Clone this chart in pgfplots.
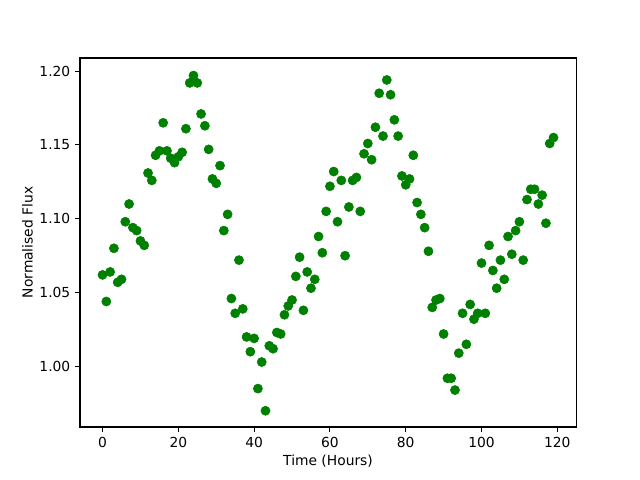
\documentclass[border=0pt]{standalone}
\usepackage{pgfplots}
\pgfplotsset{compat=1.18}
\usepackage{fontspec}
\setmainfont{DejaVu Sans}
\begin{document}
\begin{tikzpicture}[x=1pt,y=1pt]
\def\px{0.7227}
\begin{axis}[
  scale only axis,
  width=358.5pt, height=266.7pt,
  xmin=-5.95, xmax=124.95, ymin=0.959, ymax=1.2089,
  axis line style={line width=0.8pt},
  tick align=outside, tick pos=left,
  major tick length=3.5pt,
  every tick/.style={black, line width=0.8pt},
  xtick={0,20,40,60,80,100,120},
  ytick={1.00,1.05,1.10,1.15,1.20},
  yticklabel style={/pgf/number format/.cd, fixed, fixed zerofill, precision=2},
  /pgf/number format/assume math mode=true,
  ticklabel style={font=\fontsize{10}{12}\selectfont},
  label style={font=\fontsize{10}{12}\selectfont},
  xlabel={Time (Hours)},
  ylabel={Normalised Flux},
  xlabel style={yshift=1pt},
  ylabel style={yshift=-2pt},
]
\addplot[only marks, mark=*, mark size=3.3pt, color={rgb,255:red,0;green,128;blue,0}] coordinates {
(0,1.062) (1,1.044) (2,1.064) (3,1.080) (4,1.057) (5,1.059)
(6,1.098) (7,1.110) (8,1.094) (9,1.092) (10,1.085) (11,1.082)
(12,1.131) (13,1.126) (14,1.143) (15,1.146) (16,1.165) (17,1.146)
(18,1.141) (19,1.138) (20,1.142) (21,1.145) (22,1.161) (23,1.192)
(24,1.197) (25,1.192) (26,1.171) (27,1.163) (28,1.147) (29,1.127)
(30,1.124) (31,1.136) (32,1.092) (33,1.103) (34,1.046) (35,1.036)
(36,1.072) (37,1.039) (38,1.020) (39,1.010) (40,1.019) (41,0.985)
(42,1.003) (43,0.970) (44,1.014) (45,1.012) (46,1.023) (47,1.022)
(48,1.035) (49,1.041) (50,1.045) (51,1.061) (52,1.074) (53,1.038)
(54,1.064) (55,1.053) (56,1.059) (57,1.088) (58,1.077) (59,1.105)
(60,1.122) (61,1.132) (62,1.098) (63,1.126) (64,1.075) (65,1.108)
(66,1.126) (67,1.128) (68,1.105) (69,1.144) (70,1.151) (71,1.140)
(72,1.162) (73,1.185) (74,1.156) (75,1.194) (76,1.184) (77,1.167)
(78,1.156) (79,1.129) (80,1.123) (81,1.127) (82,1.143) (83,1.111)
(84,1.103) (85,1.094) (86,1.078) (87,1.040) (88,1.045) (89,1.046)
(90,1.022) (91,0.992) (92,0.992) (93,0.984) (94,1.009) (95,1.036)
(96,1.015) (97,1.042) (98,1.032) (99,1.036) (100,1.070) (101,1.036)
(102,1.082) (103,1.065) (104,1.053) (105,1.072) (106,1.059) (107,1.088)
(108,1.076) (109,1.092) (110,1.098) (111,1.072) (112,1.113) (113,1.120)
(114,1.120) (115,1.110) (116,1.116) (117,1.097) (118,1.151) (119,1.155)
};
\end{axis}
\path (current axis.south west) ++(-80*\px pt,-53*\px pt) rectangle ++(640*\px pt,480*\px pt);
\end{tikzpicture}
\end{document}
